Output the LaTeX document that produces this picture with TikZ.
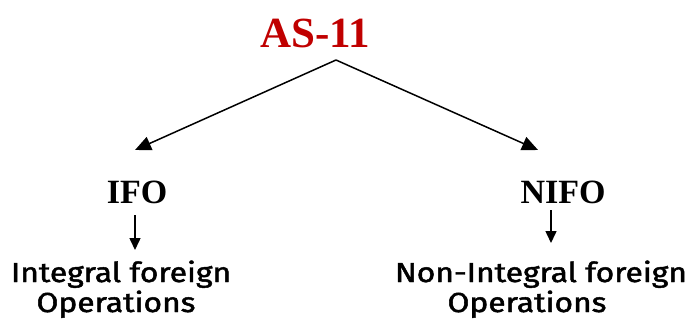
\documentclass[tikz,border=0pt]{standalone}
\usepackage{fontspec}
\setmainfont{Liberation Serif}
\newfontfamily\labfont[FakeBold=1.6]{Fira Sans}
\usetikzlibrary{arrows.meta}
\definecolor{titlered}{RGB}{192,0,0}
\newcommand{\widelab}[1]{\scalebox{1.155}[1]{#1}}
\tikzset{
  title/.style={font=\fontsize{43}{43}\selectfont\bfseries, text=titlered, anchor=base, inner sep=0pt},
  head/.style={font=\fontsize{34}{34}\selectfont\bfseries, anchor=base, inner sep=0pt},
  lab/.style={font=\labfont\fontsize{27.5}{27.5}\selectfont, anchor=base, inner sep=0pt},
  bigarrow/.style={line width=1.5pt, -{Triangle[length=16pt,width=14pt]}},
  smallarrow/.style={line width=1.5pt, -{Triangle[length=12pt,width=11pt]}}
}
\begin{document}
\begin{tikzpicture}[x=1pt,y=-1pt]
\useasboundingbox (0,0) rectangle (692,325);
\node[title] (t) at (315,47) {AS-11};
\coordinate (apex) at (336,60);
\coordinate (lt) at (135,150);
\coordinate (rt) at (538,150);
\node[head] (ifo) at (137,203) {IFO};
\node[head] (nifo) at (563,203) {NIFO};
\coordinate (la1) at (135,215);
\coordinate (la2) at (135,250);
\coordinate (ra1) at (551,210);
\coordinate (ra2) at (551,243);
\node[lab] (l1) at (121,282) {\widelab{Integral foreign}};
\node[lab] (l2) at (116,312) {\widelab{Operations}};
\node[lab] (r1) at (541,282) {\widelab{Non-Integral foreign}};
\node[lab] (r2) at (527,312) {\widelab{Operations}};
\draw[bigarrow] (apex) -- (lt);
\draw[bigarrow] (apex) -- (rt);
\draw[smallarrow] (la1) -- (la2);
\draw[smallarrow] (ra1) -- (ra2);
\end{tikzpicture}
\end{document}
